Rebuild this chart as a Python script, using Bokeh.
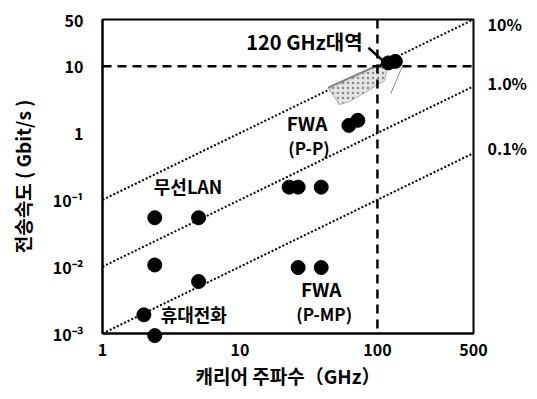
from bokeh.plotting import figure
from bokeh.models import FixedTicker, Span, Label, LogAxis
from bokeh.embed import file_html
from bokeh.resources import INLINE

# ---- data ----
wlan_x = [2.4, 5.0, 2.4, 5.0]
wlan_y = [0.054, 0.054, 0.0106, 0.006]
cell_x = [2.0, 2.4]
cell_y = [0.0019, 0.00093]
fwa_pp_x = [22.8, 26.5, 39.0, 62.0, 72.0]
fwa_pp_y = [0.155, 0.155, 0.155, 1.3, 1.55]
fwa_pmp_x = [26.5, 39.0]
fwa_pmp_y = [0.0097, 0.0097]
band120_x = [120.0, 135.0]
band120_y = [11.2, 11.8]

ratios = [0.1, 0.01, 0.001]
ratio_labels = ["10%", "1.0%", "0.1%"]
ratio_label_y = [43.3, 5.66, 0.60]
x_ticks = [1, 10, 100, 500]
x_tick_labels = ["1", "10", "100", "500"]
y_ticks = [0.001, 0.01, 0.1, 1, 10, 50]
y_tick_labels = ["10⁻³", "10⁻²", "10⁻¹", "1", "10", "50"]
x_limits = [1, 500]
y_limits = [0.001, 50]
ref_freq = 100
ref_rate = 10

# gray "growth" arrow outline (data coords)
arrow_x = [43.9, 101.7, 118.3, 112.5, 64.6, 52.8]
arrow_y = [4.77, 10.5, 9.18, 6.07, 3.04, 2.65]

FONT = "Noto Sans CJK KR"

p = figure(width=537, height=399, frame_width=371, frame_height=314,
           x_axis_type="log", y_axis_type="log",
           x_range=tuple(x_limits), y_range=tuple(y_limits),
           output_backend="svg", toolbar_location=None,
           min_border_left=102, min_border_right=64,
           min_border_top=19, min_border_bottom=66)

p.grid.visible = False
p.outline_line_color = "black"
p.outline_line_width = 2
p.background_fill_color = "white"
p.border_fill_color = "white"


def style_axis(ax):
    ax.axis_line_width = 2
    ax.major_tick_in = 0
    ax.major_tick_out = 0
    ax.minor_tick_in = 0
    ax.minor_tick_out = 0
    ax.major_label_text_font = FONT
    ax.major_label_text_font_style = "bold"
    ax.major_label_text_font_size = "16px"
    ax.major_label_text_color = "black"
    ax.axis_label_text_font = FONT
    ax.axis_label_text_font_style = "bold"
    ax.axis_label_text_font_size = "19px"
    ax.axis_label_text_color = "black"


style_axis(p.xaxis[0])
style_axis(p.yaxis[0])

p.xaxis.ticker = FixedTicker(ticks=x_ticks)
p.xaxis.major_label_overrides = {t: l for t, l in zip(x_ticks, x_tick_labels)}
p.yaxis.ticker = FixedTicker(ticks=y_ticks)
p.yaxis.major_label_overrides = {t: l for t, l in zip(y_ticks, y_tick_labels)}
p.xaxis.major_label_standoff = 10
p.yaxis.major_label_standoff = 19
p.xaxis.axis_label = "캐리어 주파수（GHz）"
p.xaxis.axis_label_standoff = 3
p.yaxis.axis_label = "전송속도 ( Gbit/s )"
p.yaxis.axis_label_standoff = 14

# right-hand ratio labels as an axis
raxis = LogAxis(ticker=FixedTicker(ticks=ratio_label_y),
                major_label_overrides={t: l for t, l in zip(ratio_label_y, ratio_labels)})
style_axis(raxis)
raxis.axis_line_color = None
raxis.major_label_standoff = 14
p.add_layout(raxis, "right")

# ratio lines (dotted)
for r in ratios:
    p.line(x_limits, [r * x for x in x_limits], line_color="black",
           line_width=2, line_dash="2 2")

# dashed reference lines
p.add_layout(Span(location=ref_freq, dimension="height", line_color="black",
                  line_width=2.5, line_dash="9 6"))
p.add_layout(Span(location=ref_rate, dimension="width", line_color="black",
                  line_width=2.5, line_dash="9 6"))

# gray growth arrow
p.patch(arrow_x, arrow_y, fill_color="#e2e2e2", fill_alpha=0.9,
        hatch_pattern=".", hatch_color="#8a8a8a", hatch_scale=5,
        line_color="#b0b0b0", line_width=1)
p.line(arrow_x[:2], arrow_y[:2], line_color="#808080", line_width=2)
p.line([151.0, 125.0], [9.7, 3.9], line_color="#8a8a8a", line_width=1)

# points
for xs, ys in [(wlan_x, wlan_y), (cell_x, cell_y), (fwa_pp_x, fwa_pp_y),
               (fwa_pmp_x, fwa_pmp_y), (band120_x, band120_y)]:
    r = p.scatter(xs, ys, size=14, color="black")
    r.level = "overlay"

# black pointer from label to the 120 GHz point
p.line([86, 110], [18.9, 12.0], line_color="black", line_width=2.5)


def lab(x, y, text, align="left", size="17px", style="bold"):
    p.add_layout(Label(x=x, y=y, text=text, text_font=FONT,
                       text_font_style=style, text_font_size=size,
                       text_align=align, text_baseline="middle",
                       text_color="black", level="overlay"))


lab(11.1, 23.3, "120 GHz대역", size="20px")
lab(2.36, 0.163, "무선LAN", size="18px")
lab(30.8, 1.43, "FWA", align="center", size="19px")
lab(31.8, 0.60, "(P-P)", align="center")
lab(39.0, 0.0047, "FWA", align="center", size="19px")
lab(41.0, 0.00197, "(P-MP)", align="center")
lab(2.65, 0.00197, "휴대전화", size="18px")

open("out.html", "w").write(file_html(p, INLINE))
